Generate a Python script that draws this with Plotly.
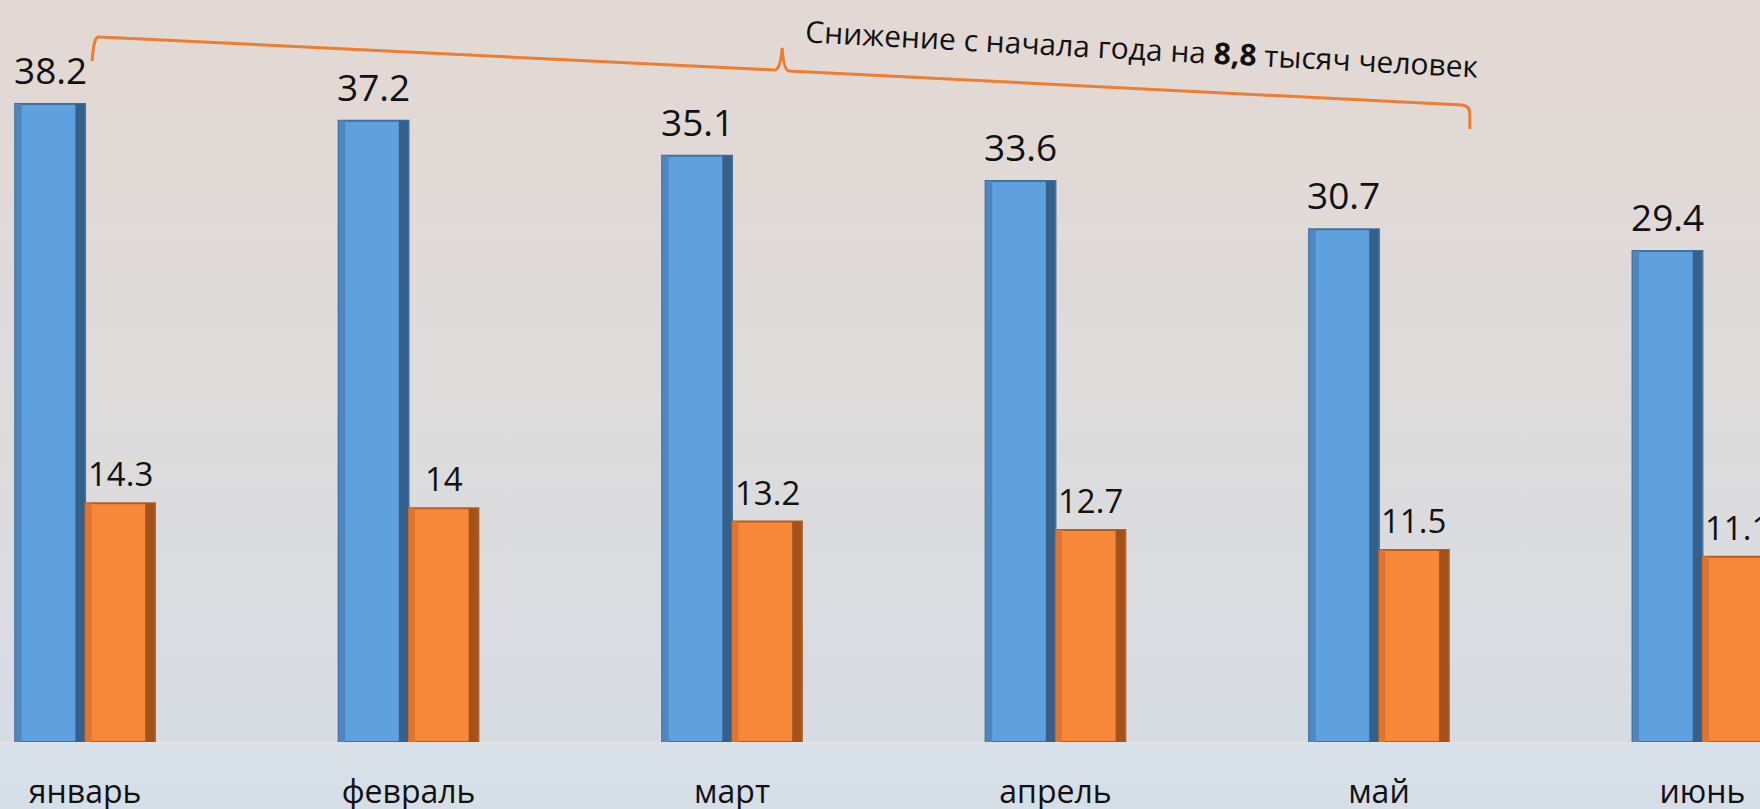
import base64
import plotly.graph_objects as go

months = ["январь", "февраль", "март", "апрель", "май", "июнь"]
series_a = [38.2, 37.2, 35.1, 33.6, 30.7, 29.4]
series_b = [14.3, 14.0, 13.2, 12.7, 11.5, 11.1]
note = "Снижение с начала года на <b>8,8</b> тысяч человек"

W, H = 1760, 809
PLOT_BOTTOM = 742
BAR_W = 0.216
FONT = "Open Sans"

# soft vertical gradient behind everything
svg = f"""<svg xmlns='http://www.w3.org/2000/svg' width='{W}' height='{H}' viewBox='0 0 {W} {H}' preserveAspectRatio='none'>
<defs><linearGradient id='g' x1='0' y1='0' x2='0' y2='1'>
<stop offset='0' stop-color='#e3d8d3'/>
<stop offset='0.5' stop-color='#dddbdb'/>
<stop offset='0.916' stop-color='#d7dce3'/>
<stop offset='0.918' stop-color='#d8e0e8'/>
<stop offset='1' stop-color='#d5dee7'/>
</linearGradient></defs>
<rect width='{W}' height='{H}' fill='url(#g)'/></svg>"""
bg_src = "data:image/svg+xml;base64," + base64.b64encode(svg.encode()).decode()

fig = go.Figure()

# main bars
fig.add_trace(go.Bar(x=months, y=series_a, offset=-BAR_W, width=BAR_W,
                     marker=dict(color="#5fa0de", line=dict(color="#41719f", width=2))))
fig.add_trace(go.Bar(x=months, y=series_b, offset=0, width=BAR_W,
                     marker=dict(color="#f7883a", line=dict(color="#b35f22", width=2))))
# shaded edges for a bit of bevel
fig.add_trace(go.Bar(x=months, y=series_a, offset=-BAR_W, width=0.02,
                     marker=dict(color="#4f86bd", line=dict(width=0))))
fig.add_trace(go.Bar(x=months, y=series_a, offset=-0.03, width=0.028,
                     marker=dict(color="#35608c", line=dict(width=0))))
fig.add_trace(go.Bar(x=months, y=series_b, offset=0, width=0.02,
                     marker=dict(color="#dd7430", line=dict(width=0))))
fig.add_trace(go.Bar(x=months, y=series_b, offset=BAR_W - 0.03, width=0.028,
                     marker=dict(color="#a5521a", line=dict(width=0))))

# value labels
for m, a, b in zip(months, series_a, series_b):
    fig.add_annotation(x=m, y=a, text=str(a), showarrow=False, xshift=-35, yshift=7,
                       yanchor="bottom", font=dict(family=FONT, size=37, color="#111"))
    fig.add_annotation(x=m, y=b, text=f"{b:g}", showarrow=False, xshift=35, yshift=5,
                       yanchor="bottom", font=dict(family=FONT, size=33, color="#111"))

# bracket over the decline
fig.add_shape(type="path", xref="x", yref="y",
              path="M 0.022 40.78 Q 0.026 42.3 0.045 42.22 L 2.133 40.24 Q 2.15 40.3 2.155 41.56 "
                   "Q 2.16 40.2 2.176 40.18 L 4.257 38.14 Q 4.281 38.1 4.281 37.6 L 4.281 36.71",
              line=dict(color="#ed7d31", width=3))
fig.add_annotation(x=1142 / W, y=(PLOT_BOTTOM - 48) / PLOT_BOTTOM, xref="paper", yref="paper",
                   xanchor="center", yanchor="middle",
                   text=note, showarrow=False, textangle=3,
                   font=dict(family=FONT, size=30, color="#111"))

fig.update_layout(
    width=W, height=H,
    margin=dict(l=0, r=0, t=0, b=H - PLOT_BOTTOM),
    barmode="overlay",
    showlegend=False,
    paper_bgcolor="rgba(0,0,0,0)",
    plot_bgcolor="rgba(0,0,0,0)",
    images=[dict(source=bg_src, xref="paper", yref="paper", x=0, y=1,
                 sizex=1, sizey=H / PLOT_BOTTOM, xanchor="left", yanchor="top",
                 sizing="stretch", layer="below")],
    xaxis=dict(type="category", range=[-0.263, 5.178], showgrid=False, zeroline=False,
               automargin=False,
               showline=True, linecolor="#e6e0dc", linewidth=2,
               ticks="outside", ticklen=21, tickcolor="rgba(0,0,0,0)",
               tickfont=dict(family=FONT, size=32, color="#111")),
    yaxis=dict(range=[0, PLOT_BOTTOM / 16.7], visible=False),
)

fig.write_html("out.html", config={"displayModeBar": False},
               post_script="document.body.style.margin='0';document.body.style.overflow='hidden';")
